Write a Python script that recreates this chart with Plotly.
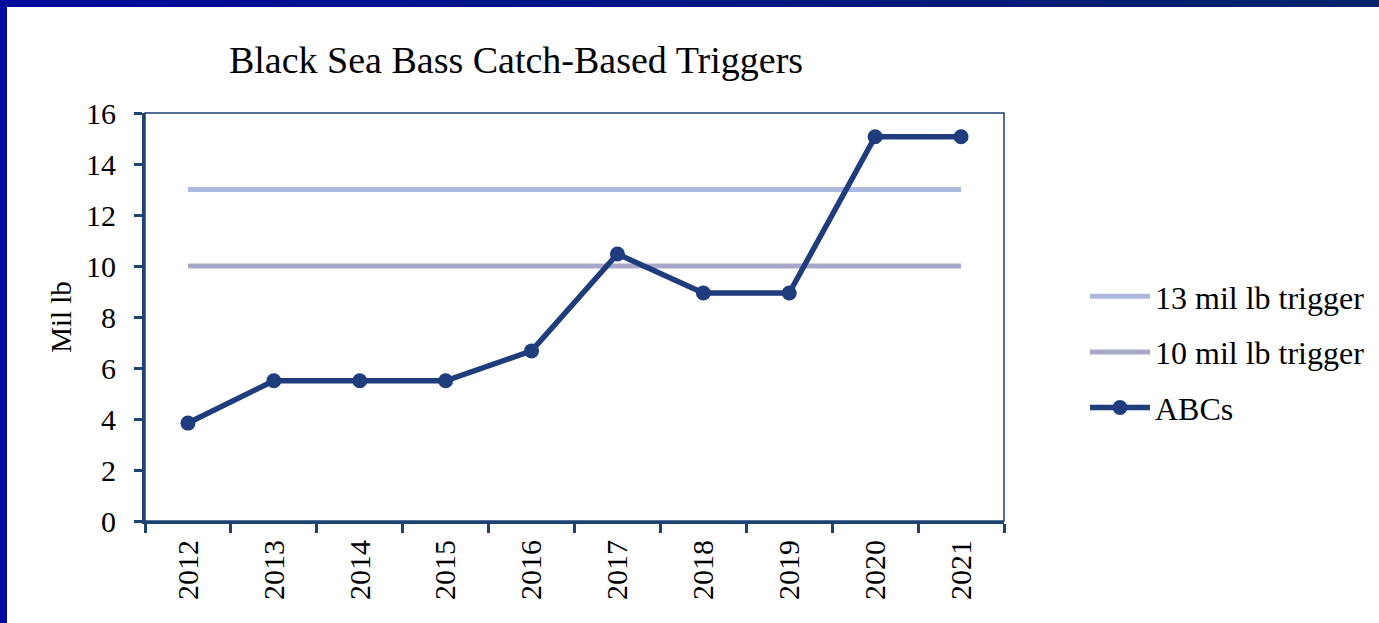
import plotly.graph_objects as go

# Data
years = ["2012", "2013", "2014", "2015", "2016", "2017", "2018", "2019", "2020", "2021"]
abcs = [3.84, 5.50, 5.50, 5.50, 6.67, 10.47, 8.94, 8.94, 15.07, 15.07]
trigger_13 = [13] * len(years)
trigger_10 = [10] * len(years)

W, H = 1379, 623
L, R, T, B = 145, 375, 113, 102
PW, PH = W - L - R, H - T - B

FONT = "Liberation Serif, Times New Roman, serif"
AXIS_COLOR = "#1d4373"


def px_x(x):
    return (x - L) / PW


def px_y(y):
    return 1 - (y - T) / PH


fig = go.Figure()

fig.add_trace(go.Scatter(
    x=years, y=trigger_13, mode="lines", name="13 mil lb trigger",
    line=dict(color="#adb8e0", width=5), legendgroup="a",
))
fig.add_trace(go.Scatter(
    x=years, y=trigger_10, mode="lines", name="10 mil lb trigger",
    line=dict(color="#a9a8cb", width=5), legendgroup="b",
))
fig.add_trace(go.Scatter(
    x=years, y=abcs, mode="lines+markers", name="ABCs",
    line=dict(color="#1f3d7c", width=5.5),
    marker=dict(color="#1f3d7c", size=15),
    legendgroup="c",
))

shapes = []
# thin frame around the plot area
shapes.append(dict(type="rect", xref="paper", yref="paper", x0=0, x1=1, y0=0, y1=1,
                   line=dict(color=AXIS_COLOR, width=1.5), layer="above"))

# slide border: gradient band along the top, solid band on the left
c0 = (0, 10, 155)
c1 = (6, 35, 106)
n = 30
for i in range(n):
    t = i / (n - 1)
    col = "rgb({},{},{})".format(*[round(a + (b - a) * t) for a, b in zip(c0, c1)])
    shapes.append(dict(type="rect", xref="paper", yref="paper",
                       x0=px_x(i * W / n), x1=px_x(min((i + 1) * W / n + 1, W)),
                       y0=px_y(7), y1=px_y(0),
                       fillcolor=col, line=dict(width=0), layer="above"))
shapes.append(dict(type="rect", xref="paper", yref="paper",
                   x0=px_x(0), x1=px_x(7), y0=px_y(H), y1=px_y(0),
                   fillcolor="rgb(0,10,155)", line=dict(width=0), layer="above"))

fig.update_layout(
    width=W, height=H,
    margin=dict(l=L, r=R, t=T, b=B, autoexpand=False),
    paper_bgcolor="white", plot_bgcolor="white",
    font=dict(family=FONT, color="black", size=30),
    title=dict(text="Black Sea Bass Catch-Based Triggers",
               font=dict(family=FONT, size=38, color="black"),
               x=px_x(516), xref="paper", xanchor="center",
               y=1 - 60 / H, yref="container", yanchor="middle"),
    xaxis=dict(
        type="category", range=[-0.5, 9.5],
        showline=True, linecolor=AXIS_COLOR, linewidth=3,
        ticks="outside", tickson="boundaries", ticklen=9, tickwidth=3,
        tickcolor=AXIS_COLOR, tickangle=-90, showgrid=False,
        tickfont=dict(family=FONT, size=30, color="black"),
        ticklabelstandoff=4,
    ),
    yaxis=dict(
        range=[0, 16], dtick=2, tick0=0,
        showline=True, linecolor=AXIS_COLOR, linewidth=3,
        ticks="outside", ticklen=8, tickwidth=3, tickcolor=AXIS_COLOR,
        showgrid=False, zeroline=False,
        tickfont=dict(family=FONT, size=30, color="black"),
        ticklabelstandoff=12,
        title=dict(text="Mil lb", font=dict(family=FONT, size=29, color="black"),
                   standoff=6),
    ),
    legend=dict(
        x=px_x(1085), xanchor="left", y=px_y(352), yanchor="middle",
        font=dict(family=FONT, size=32, color="black"),
        traceorder="grouped", tracegroupgap=11,
        bgcolor="rgba(0,0,0,0)", itemwidth=60,
    ),
    shapes=shapes,
)

fig.write_html("out.html")
